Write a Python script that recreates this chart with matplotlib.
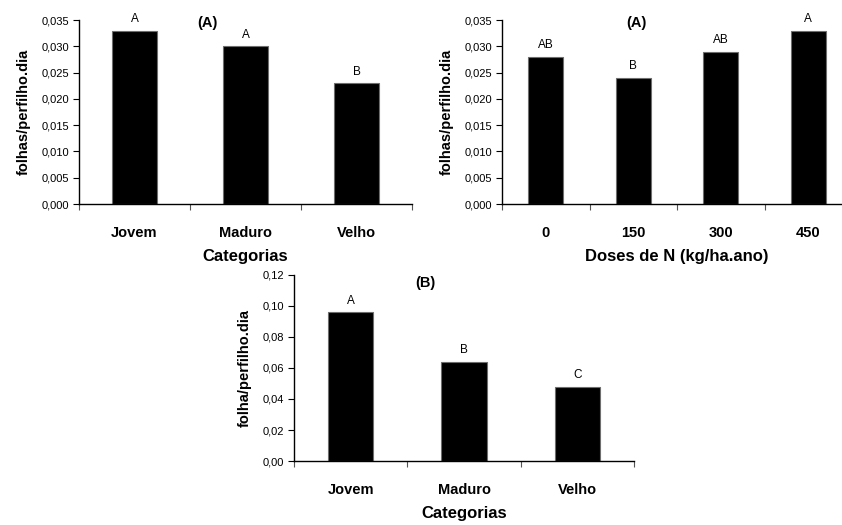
import numpy as np
import matplotlib
matplotlib.use("Agg")
import matplotlib.pyplot as plt
from matplotlib.ticker import FuncFormatter, FixedLocator

plt.rcParams['font.family'] = ['Liberation Sans', 'DejaVu Sans']

# Dados
categorias = ["Jovem", "Maduro", "Velho"]
taxa_categoria = [0.033, 0.030, 0.023]
letras_categoria = ["A", "A", "B"]

doses = ["0", "150", "300", "450"]
taxa_doses = [0.028, 0.024, 0.029, 0.033]
letras_doses = ["AB", "B", "AB", "A"]

taxa_categoria_b = [0.096, 0.064, 0.048]
letras_categoria_b = ["A", "B", "C"]


def virgula(decimais):
    return FuncFormatter(lambda v, p: f"{v:.{decimais}f}".replace(".", ","))


def painel(ax, nomes, valores, letras, titulo, xlabel, ylabel, ymax, ystep,
           decimais, titulo_y):
    n = len(nomes)
    x = np.arange(n)
    ax.bar(x, valores, width=0.4, color="black", edgecolor="#6e6e6e",
           linewidth=0.8, zorder=2)
    for xi, v, l in zip(x, valores, letras):
        ax.annotate(l, (xi, v), xytext=(0, 4), textcoords="offset points",
                    ha="center", va="bottom", fontsize=8.5)
    ax.set_xlim(-0.5, n - 0.5)
    ax.set_ylim(0, ymax)
    ax.yaxis.set_major_locator(FixedLocator(np.arange(0, ymax + ystep / 2, ystep)))
    ax.yaxis.set_major_formatter(virgula(decimais))
    # marcas nas divisões entre categorias, rótulos no centro
    ax.xaxis.set_major_locator(FixedLocator(np.arange(-0.5, n, 1.0)))
    ax.xaxis.set_major_formatter(FuncFormatter(lambda v, p: ""))
    ax.xaxis.set_minor_locator(FixedLocator(x))
    ax.set_xticklabels(nomes, minor=True, fontweight="bold", fontsize=10.5)
    ax.tick_params(axis="x", which="major", length=4, width=0.8,
                   color="#555555", direction="out")
    ax.tick_params(axis="x", which="minor", length=0, pad=16)
    ax.tick_params(axis="y", length=4, width=0.8, direction="out",
                   labelsize=8, pad=3)
    for s in ["top", "right"]:
        ax.spines[s].set_visible(False)
    for s in ["left", "bottom"]:
        ax.spines[s].set_linewidth(1.0)
    ax.set_xlabel(xlabel, fontweight="bold", fontsize=12, labelpad=6)
    ax.set_ylabel(ylabel, fontweight="bold", fontsize=10.5, labelpad=8)
    ax.text(0.385, titulo_y, titulo, transform=ax.transAxes, ha="center",
            va="center", fontweight="bold", fontsize=10.5)


fig = plt.figure(figsize=(8.42, 5.25), dpi=100)

ax1 = fig.add_axes([0.0938, 0.6114, 0.3955, 0.3505])
painel(ax1, categorias, taxa_categoria, letras_categoria, "(A)", "Categorias",
       "folhas/perfilho.dia", 0.035, 0.005, 3, 0.985)

ax2 = fig.add_axes([0.5962, 0.6114, 0.4157, 0.3505])
painel(ax2, doses, taxa_doses, letras_doses, "(A)", "Doses de N (kg/ha.ano)",
       "folhas/perfilho.dia", 0.035, 0.005, 3, 0.985)

ax3 = fig.add_axes([0.3492, 0.1219, 0.4038, 0.3543])
painel(ax3, categorias, taxa_categoria_b, letras_categoria_b, "(B)", "Categorias",
       "folha/perfilho.dia", 0.12, 0.02, 2, 0.955)

fig.savefig("out.png", dpi=100)
